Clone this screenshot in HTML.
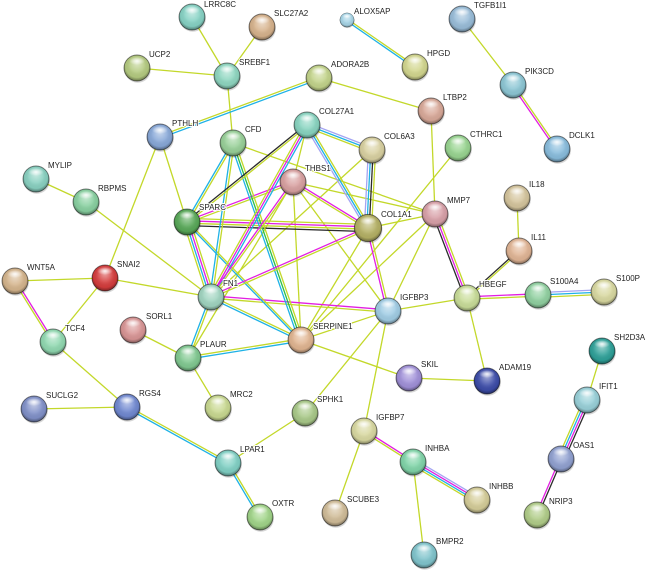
<!DOCTYPE html>
<html><head><meta charset="utf-8"><style>
html,body{margin:0;padding:0;background:#fff;}
svg{display:block;}
line{stroke-width:1.3;fill:none;}
.y{stroke:#c3d82a}.c{stroke:#1fb2e6}.m{stroke:#e21fe2}.k{stroke:#2b2b2b}.l{stroke:#a4a4f2}.g{stroke:#2cbf48}
text{font-family:"Liberation Sans",Arial,sans-serif;font-size:8px;fill:#222;stroke:#fff;stroke-width:2;stroke-linejoin:round;paint-order:stroke;}
</style></head><body>
<svg width="650" height="572" viewBox="0 0 650 572" xmlns="http://www.w3.org/2000/svg">
<defs>
<radialGradient id="sh" cx="50%" cy="45%" r="55%" fx="50%" fy="30%">
<stop offset="0" stop-color="#fff" stop-opacity="0.55"/>
<stop offset="0.5" stop-color="#fff" stop-opacity="0.12"/>
<stop offset="0.8" stop-color="#000" stop-opacity="0.04"/>
<stop offset="1" stop-color="#000" stop-opacity="0.42"/>
</radialGradient>
<radialGradient id="hl" cx="50%" cy="50%" r="50%">
<stop offset="0" stop-color="#fff" stop-opacity="0.9"/>
<stop offset="1" stop-color="#fff" stop-opacity="0"/>
</radialGradient>
<g id="ov"><circle r="13" fill="url(#sh)" stroke="#000" stroke-opacity="0.5" stroke-width="0.9"/><ellipse cy="-7" rx="8" ry="4" fill="url(#hl)"/></g>
<g id="sd"><circle cx="0.8" cy="1.8" r="13" fill="#000" fill-opacity="0.16"/></g>
</defs>

<!-- single text-mining edges -->
<g class="y">
<line class="y" x1="192" y1="17" x2="227" y2="76"/>
<line class="y" x1="262" y1="27" x2="227" y2="76"/>
<line class="y" x1="137" y1="68" x2="227" y2="76"/>
<line class="y" x1="227" y1="76" x2="233" y2="143"/>
<line class="y" x1="319" y1="78" x2="431" y2="111"/>
<line class="y" x1="462" y1="19" x2="513" y2="85"/>
<line class="y" x1="431" y1="111" x2="435" y2="214"/>
<line class="y" x1="458" y1="148" x2="301" y2="340"/>
<line class="y" x1="307" y1="125" x2="293" y2="182"/>
<line class="y" x1="372" y1="150" x2="211" y2="297"/>
<line class="y" x1="293" y1="182" x2="301" y2="340"/>
<line class="y" x1="293" y1="182" x2="435" y2="214"/>
<line class="y" x1="293" y1="182" x2="388" y2="311"/>
<line class="y" x1="293" y1="182" x2="188" y2="358"/>
<line class="y" x1="233" y1="143" x2="435" y2="214"/>
<line class="y" x1="368" y1="228" x2="435" y2="214"/>
<line class="y" x1="368" y1="228" x2="301" y2="340"/>
<line class="y" x1="435" y1="214" x2="301" y2="340"/>
<line class="y" x1="435" y1="214" x2="388" y2="311"/>
<line class="y" x1="211" y1="297" x2="105" y2="278"/>
<line class="y" x1="211" y1="297" x2="86" y2="202"/>
<line class="y" x1="188" y1="358" x2="133" y2="330"/>
<line class="y" x1="188" y1="358" x2="218" y2="408"/>
<line class="y" x1="301" y1="340" x2="388" y2="311"/>
<line class="y" x1="301" y1="340" x2="409" y2="378"/>
<line class="y" x1="388" y1="311" x2="467" y2="298"/>
<line class="y" x1="388" y1="311" x2="305" y2="413"/>
<line class="y" x1="388" y1="311" x2="364" y2="431"/>
<line class="y" x1="305" y1="413" x2="228" y2="463"/>
<line class="y" x1="517" y1="198" x2="519" y2="251"/>
<line class="y" x1="467" y1="298" x2="487" y2="381"/>
<line class="y" x1="409" y1="378" x2="487" y2="381"/>
<line class="y" x1="160" y1="137" x2="187" y2="222"/>
<line class="y" x1="160" y1="137" x2="105" y2="278"/>
<line class="y" x1="36" y1="179" x2="86" y2="202"/>
<line class="y" x1="15" y1="281" x2="105" y2="278"/>
<line class="y" x1="53" y1="342" x2="105" y2="278"/>
<line class="y" x1="53" y1="342" x2="127" y2="407"/>
<line class="y" x1="127" y1="407" x2="34" y2="409"/>
<line class="y" x1="364" y1="431" x2="335" y2="513"/>
<line class="y" x1="413" y1="462" x2="424" y2="555"/>
<line class="y" x1="602" y1="351" x2="587" y2="400"/>
</g>

<!-- multi-evidence edges -->
<line class="y" x1="160" y1="135.8" x2="319" y2="76.8"/><line class="c" x1="160" y1="138.2" x2="319" y2="79.2"/>
<line class="y" x1="347" y1="18.8" x2="415" y2="65.8"/><line class="c" x1="347" y1="21.2" x2="415" y2="68.2"/>
<line class="m" x1="511.8" y1="85" x2="555.8" y2="149"/><line class="y" x1="514.2" y1="85" x2="558.2" y2="149"/>
<line class="y" x1="13.8" y1="281" x2="51.8" y2="342"/><line class="m" x1="16.2" y1="281" x2="54.2" y2="342"/>
<line class="y" x1="127" y1="405.8" x2="228" y2="461.8"/><line class="c" x1="127" y1="408.2" x2="228" y2="464.2"/>
<line class="c" x1="226.8" y1="463" x2="258.8" y2="517"/><line class="y" x1="229.2" y1="463" x2="261.2" y2="517"/>
<line class="m" x1="364" y1="429.8" x2="413" y2="460.8"/><line class="y" x1="364" y1="432.2" x2="413" y2="463.2"/>
<line class="l" x1="413" y1="458.4" x2="477" y2="496.4"/><line class="m" x1="413" y1="460.8" x2="477" y2="498.8"/><line class="c" x1="413" y1="463.2" x2="477" y2="501.2"/><line class="y" x1="413" y1="465.6" x2="477" y2="503.6"/>
<line class="y" x1="583.4" y1="400" x2="557.4" y2="459"/><line class="c" x1="585.8" y1="400" x2="559.8" y2="459"/><line class="m" x1="588.2" y1="400" x2="562.2" y2="459"/><line class="k" x1="590.6" y1="400" x2="564.6" y2="459"/>
<line class="m" x1="559.8" y1="459" x2="535.8" y2="515"/><line class="k" x1="562.2" y1="459" x2="538.2" y2="515"/>
<line class="k" x1="432.6" y1="214" x2="464.6" y2="298"/><line class="m" x1="435" y1="214" x2="467" y2="298"/><line class="y" x1="437.4" y1="214" x2="469.4" y2="298"/>
<line class="k" x1="519" y1="249.8" x2="467" y2="296.8"/><line class="y" x1="519" y1="252.2" x2="467" y2="299.2"/>
<line class="m" x1="467" y1="296.8" x2="538" y2="293.8"/><line class="y" x1="467" y1="299.2" x2="538" y2="296.2"/>
<line class="l" x1="538" y1="292.6" x2="604" y2="289.6"/><line class="c" x1="538" y1="295" x2="604" y2="292"/><line class="y" x1="538" y1="297.4" x2="604" y2="294.4"/>
<line class="m" x1="211" y1="295.8" x2="388" y2="309.8"/><line class="y" x1="211" y1="298.2" x2="388" y2="312.2"/>
<line class="y" x1="211" y1="295.8" x2="301" y2="338.8"/><line class="c" x1="211" y1="298.2" x2="301" y2="341.2"/>
<line class="c" x1="209.8" y1="297" x2="186.8" y2="358"/><line class="y" x1="212.2" y1="297" x2="189.2" y2="358"/>
<line class="y" x1="188" y1="356.8" x2="301" y2="338.8"/><line class="c" x1="188" y1="359.2" x2="301" y2="341.2"/>
<line class="y" x1="183.4" y1="222" x2="207.4" y2="297"/><line class="c" x1="185.8" y1="222" x2="209.8" y2="297"/><line class="m" x1="188.2" y1="222" x2="212.2" y2="297"/><line class="y" x1="190.6" y1="222" x2="214.6" y2="297"/>
<line class="y" x1="187" y1="218.4" x2="368" y2="224.4"/><line class="m" x1="187" y1="220.8" x2="368" y2="226.8"/><line class="y" x1="187" y1="223.2" x2="368" y2="229.2"/><line class="k" x1="187" y1="225.6" x2="368" y2="231.6"/>
<line class="m" x1="187" y1="220.8" x2="293" y2="180.8"/><line class="y" x1="187" y1="223.2" x2="293" y2="183.2"/>
<line class="c" x1="185.8" y1="222" x2="299.8" y2="340"/><line class="y" x1="188.2" y1="222" x2="302.2" y2="340"/>
<line class="c" x1="231.8" y1="143" x2="185.8" y2="222"/><line class="y" x1="234.2" y1="143" x2="188.2" y2="222"/>
<line class="c" x1="231.8" y1="143" x2="209.8" y2="297"/><line class="y" x1="234.2" y1="143" x2="212.2" y2="297"/>
<line class="c" x1="230.6" y1="143" x2="298.6" y2="340"/><line class="g" x1="233" y1="143" x2="301" y2="340"/><line class="y" x1="235.4" y1="143" x2="303.4" y2="340"/>
<line class="k" x1="307" y1="123.8" x2="187" y2="220.8"/><line class="y" x1="307" y1="126.2" x2="187" y2="223.2"/>
<line class="l" x1="307" y1="122.6" x2="372" y2="147.6"/><line class="c" x1="307" y1="125" x2="372" y2="150"/><line class="y" x1="307" y1="127.4" x2="372" y2="152.4"/>
<line class="l" x1="304.6" y1="125" x2="365.6" y2="228"/><line class="c" x1="307" y1="125" x2="368" y2="228"/><line class="y" x1="309.4" y1="125" x2="370.4" y2="228"/>
<line class="y" x1="304.6" y1="125" x2="208.6" y2="297"/><line class="m" x1="307" y1="125" x2="211" y2="297"/><line class="c" x1="309.4" y1="125" x2="213.4" y2="297"/>
<line class="m" x1="291.8" y1="182" x2="209.8" y2="297"/><line class="y" x1="294.2" y1="182" x2="212.2" y2="297"/>
<line class="m" x1="293" y1="180.8" x2="368" y2="226.8"/><line class="y" x1="293" y1="183.2" x2="368" y2="229.2"/>
<line class="l" x1="368.4" y1="150" x2="364.4" y2="228"/><line class="c" x1="370.8" y1="150" x2="366.8" y2="228"/><line class="k" x1="373.2" y1="150" x2="369.2" y2="228"/><line class="y" x1="375.6" y1="150" x2="371.6" y2="228"/>
<line class="m" x1="368" y1="226.8" x2="211" y2="295.8"/><line class="y" x1="368" y1="229.2" x2="211" y2="298.2"/>
<line class="m" x1="366.8" y1="228" x2="386.8" y2="311"/><line class="y" x1="369.2" y1="228" x2="389.2" y2="311"/>

<!-- nodes -->
<g transform="translate(192,17)"><use href="#sd"/><circle r="13" fill="#86d2c4"/><use href="#ov"/></g>
<g transform="translate(262,27)"><use href="#sd"/><circle r="13" fill="#d6b28c"/><use href="#ov"/></g>
<g transform="translate(137,68)"><use href="#sd"/><circle r="13" fill="#b4ca80"/><use href="#ov"/></g>
<g transform="translate(227,76)"><use href="#sd"/><circle r="13" fill="#8ed6c0"/><use href="#ov"/></g>
<g transform="translate(319,78)"><use href="#sd"/><circle r="13" fill="#c2d38a"/><use href="#ov"/></g>
<g transform="translate(347,20) scale(0.55)"><use href="#sd"/><circle r="13" fill="#a6d4e6"/><use href="#ov"/></g>
<g transform="translate(415,67)"><use href="#sd"/><circle r="13" fill="#d2d68e"/><use href="#ov"/></g>
<g transform="translate(462,19)"><use href="#sd"/><circle r="13" fill="#98bcd8"/><use href="#ov"/></g>
<g transform="translate(513,85)"><use href="#sd"/><circle r="13" fill="#8cc6d4"/><use href="#ov"/></g>
<g transform="translate(557,149)"><use href="#sd"/><circle r="13" fill="#88bcdc"/><use href="#ov"/></g>
<g transform="translate(431,111)"><use href="#sd"/><circle r="13" fill="#d8a898"/><use href="#ov"/></g>
<g transform="translate(458,148)"><use href="#sd"/><circle r="13" fill="#98d490"/><use href="#ov"/></g>
<g transform="translate(372,150)"><use href="#sd"/><circle r="13" fill="#d8d0a0"/><use href="#ov"/></g>
<g transform="translate(307,125)"><use href="#sd"/><circle r="13" fill="#88d4c0"/><use href="#ov"/></g>
<g transform="translate(160,137)"><use href="#sd"/><circle r="13" fill="#88a8d8"/><use href="#ov"/></g>
<g transform="translate(233,143)"><use href="#sd"/><circle r="13" fill="#98d098"/><use href="#ov"/></g>
<g transform="translate(293,182)"><use href="#sd"/><circle r="13" fill="#d8a0a0"/><use href="#ov"/></g>
<g transform="translate(36,179)"><use href="#sd"/><circle r="13" fill="#88d0c0"/><use href="#ov"/></g>
<g transform="translate(86,202)"><use href="#sd"/><circle r="13" fill="#88d0a0"/><use href="#ov"/></g>
<g transform="translate(187,222)"><use href="#sd"/><circle r="13" fill="#58a858"/><use href="#ov"/></g>
<g transform="translate(368,228) scale(1.05)"><use href="#sd"/><circle r="13" fill="#b4b064"/><use href="#ov"/></g>
<g transform="translate(435,214)"><use href="#sd"/><circle r="13" fill="#d8a0a8"/><use href="#ov"/></g>
<g transform="translate(517,198)"><use href="#sd"/><circle r="13" fill="#d4c49c"/><use href="#ov"/></g>
<g transform="translate(519,251)"><use href="#sd"/><circle r="13" fill="#e0b494"/><use href="#ov"/></g>
<g transform="translate(15,281)"><use href="#sd"/><circle r="13" fill="#d4b48c"/><use href="#ov"/></g>
<g transform="translate(105,278)"><use href="#sd"/><circle r="13" fill="#d43c3c"/><use href="#ov"/></g>
<g transform="translate(211,297)"><use href="#sd"/><circle r="13" fill="#a0d4c0"/><use href="#ov"/></g>
<g transform="translate(467,298)"><use href="#sd"/><circle r="13" fill="#c8dc98"/><use href="#ov"/></g>
<g transform="translate(538,295)"><use href="#sd"/><circle r="13" fill="#90d0a0"/><use href="#ov"/></g>
<g transform="translate(604,292)"><use href="#sd"/><circle r="13" fill="#d8d8a0"/><use href="#ov"/></g>
<g transform="translate(388,311)"><use href="#sd"/><circle r="13" fill="#a0cce4"/><use href="#ov"/></g>
<g transform="translate(301,340)"><use href="#sd"/><circle r="13" fill="#e0b490"/><use href="#ov"/></g>
<g transform="translate(133,330)"><use href="#sd"/><circle r="13" fill="#d89494"/><use href="#ov"/></g>
<g transform="translate(53,342)"><use href="#sd"/><circle r="13" fill="#90d8b0"/><use href="#ov"/></g>
<g transform="translate(188,358)"><use href="#sd"/><circle r="13" fill="#80c890"/><use href="#ov"/></g>
<g transform="translate(409,378)"><use href="#sd"/><circle r="13" fill="#a090d8"/><use href="#ov"/></g>
<g transform="translate(487,381)"><use href="#sd"/><circle r="13" fill="#3c4ca8"/><use href="#ov"/></g>
<g transform="translate(602,351)"><use href="#sd"/><circle r="13" fill="#2ea098"/><use href="#ov"/></g>
<g transform="translate(587,400)"><use href="#sd"/><circle r="13" fill="#98d0d8"/><use href="#ov"/></g>
<g transform="translate(34,409)"><use href="#sd"/><circle r="13" fill="#8090c8"/><use href="#ov"/></g>
<g transform="translate(127,407)"><use href="#sd"/><circle r="13" fill="#7088d0"/><use href="#ov"/></g>
<g transform="translate(218,408)"><use href="#sd"/><circle r="13" fill="#c8d890"/><use href="#ov"/></g>
<g transform="translate(305,413)"><use href="#sd"/><circle r="13" fill="#a8c888"/><use href="#ov"/></g>
<g transform="translate(364,431)"><use href="#sd"/><circle r="13" fill="#d8d8a0"/><use href="#ov"/></g>
<g transform="translate(561,459)"><use href="#sd"/><circle r="13" fill="#90a0d0"/><use href="#ov"/></g>
<g transform="translate(413,462)"><use href="#sd"/><circle r="13" fill="#80d4a8"/><use href="#ov"/></g>
<g transform="translate(228,463)"><use href="#sd"/><circle r="13" fill="#80d0c4"/><use href="#ov"/></g>
<g transform="translate(477,500)"><use href="#sd"/><circle r="13" fill="#d4cc98"/><use href="#ov"/></g>
<g transform="translate(335,513)"><use href="#sd"/><circle r="13" fill="#d0bc98"/><use href="#ov"/></g>
<g transform="translate(537,515)"><use href="#sd"/><circle r="13" fill="#b0cc88"/><use href="#ov"/></g>
<g transform="translate(260,517)"><use href="#sd"/><circle r="13" fill="#a0d488"/><use href="#ov"/></g>
<g transform="translate(424,555)"><use href="#sd"/><circle r="13" fill="#80c4cc"/><use href="#ov"/></g>

<!-- labels -->
<text x="204" y="7">LRRC8C</text>
<text x="274" y="16">SLC27A2</text>
<text x="149" y="57">UCP2</text>
<text x="239" y="65">SREBF1</text>
<text x="331" y="67">ADORA2B</text>
<text x="354" y="14">ALOX5AP</text>
<text x="427" y="56">HPGD</text>
<text x="474" y="8">TGFB1I1</text>
<text x="525" y="74">PIK3CD</text>
<text x="569" y="138">DCLK1</text>
<text x="443" y="100">LTBP2</text>
<text x="470" y="137">CTHRC1</text>
<text x="384" y="139">COL6A3</text>
<text x="319" y="114">COL27A1</text>
<text x="172" y="126">PTHLH</text>
<text x="245" y="132">CFD</text>
<text x="305" y="171">THBS1</text>
<text x="48" y="168">MYLIP</text>
<text x="98" y="191">RBPMS</text>
<text x="199" y="210">SPARC</text>
<text x="381" y="217">COL1A1</text>
<text x="447" y="203">MMP7</text>
<text x="529" y="187">IL18</text>
<text x="531" y="240">IL11</text>
<text x="27" y="270">WNT5A</text>
<text x="117" y="267">SNAI2</text>
<text x="223" y="286">FN1</text>
<text x="479" y="287">HBEGF</text>
<text x="550" y="284">S100A4</text>
<text x="616" y="281">S100P</text>
<text x="400" y="300">IGFBP3</text>
<text x="313" y="329">SERPINE1</text>
<text x="146" y="319">SORL1</text>
<text x="65" y="331">TCF4</text>
<text x="200" y="347">PLAUR</text>
<text x="421" y="367">SKIL</text>
<text x="499" y="370">ADAM19</text>
<text x="614" y="340">SH2D3A</text>
<text x="599" y="389">IFIT1</text>
<text x="46" y="398">SUCLG2</text>
<text x="139" y="396">RGS4</text>
<text x="230" y="397">MRC2</text>
<text x="317" y="402">SPHK1</text>
<text x="376" y="420">IGFBP7</text>
<text x="573" y="448">OAS1</text>
<text x="425" y="451">INHBA</text>
<text x="240" y="452">LPAR1</text>
<text x="489" y="489">INHBB</text>
<text x="347" y="502">SCUBE3</text>
<text x="549" y="504">NRIP3</text>
<text x="272" y="506">OXTR</text>
<text x="436" y="544">BMPR2</text>
</svg>
</body></html>
